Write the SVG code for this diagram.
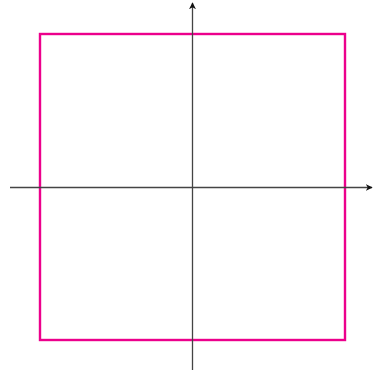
<svg xmlns="http://www.w3.org/2000/svg" width="373" height="372" viewBox="0 0 373 372">
<style>
.axis{stroke:#444;stroke-width:1.3;fill:none}
.sq{stroke:#ec008c;stroke-width:2.4;fill:none}
</style>
<defs>
<marker id="arr" viewBox="0 0 10 10" refX="9" refY="5" markerWidth="7" markerHeight="7" orient="auto" markerUnits="userSpaceOnUse">
<path d="M0,0 L10,5 L0,10 L3,5 Z" fill="#111"/>
</marker>
</defs>
<g id="square"><rect class="sq" x="40" y="34" width="305" height="306"/></g>
<g id="connectors">
<line class="axis" x1="10" y1="187.5" x2="372" y2="187.5" marker-end="url(#arr)"/>
<line class="axis" x1="192.5" y1="370" x2="192.5" y2="3" marker-end="url(#arr)"/>
</g>
</svg>
